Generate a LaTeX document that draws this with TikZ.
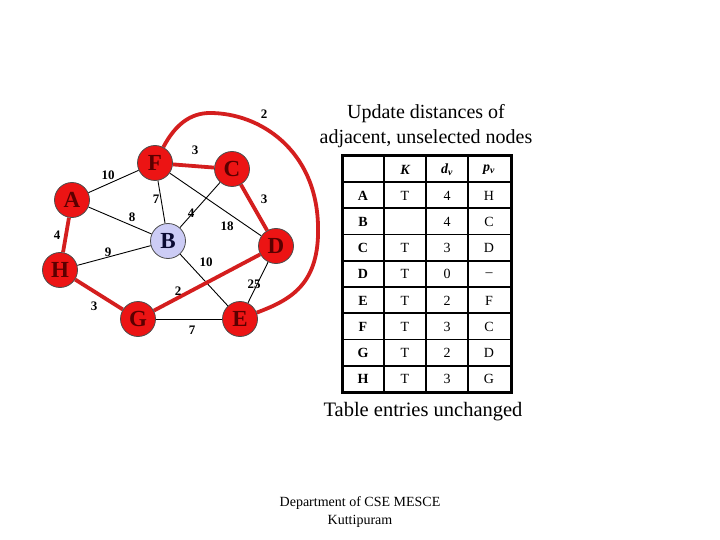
\documentclass[tikz,border=0pt]{standalone}
\usepackage{fontspec}
\setmainfont{Liberation Serif}
\usetikzlibrary{backgrounds}
\definecolor{nodered}{RGB}{236,20,20}
\definecolor{edgered}{RGB}{212,30,30}
\definecolor{letterred}{RGB}{90,0,0}
\definecolor{bblue}{RGB}{204,204,245}
\definecolor{bletter}{RGB}{10,10,50}
\tikzset{
  vert/.style={circle,draw=black!70,line width=0.8pt,fill=nodered,minimum size=35pt,inner sep=0pt,
    text=letterred,font=\fontsize{23}{23}\selectfont\bfseries},
  bvert/.style={vert,fill=bblue,text=bletter},
  thin edge/.style={draw=black,line width=0.9pt},
  red edge/.style={draw=edgered,line width=3.8pt},
  wlabel/.style={font=\fontsize{13}{13}\selectfont\bfseries,inner sep=0pt},
  cell/.style={font=\fontsize{14}{14}\selectfont,inner sep=0pt},
  hcell/.style={font=\fontsize{14}{14}\selectfont\bfseries\itshape,inner sep=0pt},
  rcell/.style={font=\fontsize{14}{14}\selectfont\bfseries,inner sep=0pt},
}
\begin{document}
\begin{tikzpicture}[x=1pt,y=-1pt]
\useasboundingbox (0,0) rectangle (720,540);
% vertices
\node[vert] (F) at (155,163) {F};
\node[vert] (C) at (232,169) {C};
\node[vert] (A) at (72,200) {A};
\node[bvert] (B) at (168,241) {B};
\node[vert] (D) at (276,246) {D};
\node[vert] (H) at (60,270) {H};
\node[vert] (G) at (138,319) {G};
\node[vert] (E) at (240,319) {E};
\coordinate (pk) at (210,113);
\coordinate (rt) at (318,225);
% edges (behind nodes)
\begin{scope}[on background layer]
\draw[thin edge] (A) -- (F);
\draw[thin edge] (A) -- (B);
\draw[thin edge] (F) -- (B);
\draw[thin edge] (C) -- (B);
\draw[thin edge] (F) -- (D);
\draw[thin edge] (H) -- (B);
\draw[thin edge] (B) -- (E);
\draw[thin edge] (D) -- (E);
\draw[thin edge] (G) -- (E);
\draw[red edge] (A) -- (H);
\draw[red edge] (H) -- (G);
\draw[red edge] (F) -- (C);
\draw[red edge] (C) -- (D);
\draw[red edge] (G) -- (D);
\draw[red edge] (F) .. controls (175,125) and (190,113) .. (pk)
  .. controls (260,113) and (316,150) .. (rt)
  .. controls (320,285) and (290,300) .. (E);
\end{scope}
% weights
\node[wlabel] (w1) at (264,114) {2};
\node[wlabel] (w2) at (195,150) {3};
\node[wlabel] (w3) at (108,175) {10};
\node[wlabel] (w4) at (156,199) {7};
\node[wlabel] (w5) at (132,217) {8};
\node[wlabel] (w6) at (191,213) {4};
\node[wlabel] (w7) at (227,226) {18};
\node[wlabel] (w8) at (264,199) {3};
\node[wlabel] (w9) at (57,235) {4};
\node[wlabel] (w10) at (108,252) {9};
\node[wlabel] (w11) at (206,262) {10};
\node[wlabel] (w12) at (178,291) {2};
\node[wlabel] (w13) at (254,284) {25};
\node[wlabel] (w14) at (94,306) {3};
\node[wlabel] (w15) at (192,330) {7};
% title
\node[font=\fontsize{20}{25}\selectfont,align=center] (title) at (426,126) {Update distances of\\adjacent, unselected nodes};
% table
\foreach \i in {0,...,7}
  \draw[line width=1.6pt] (342,{182+26.25*\i}) -- (511,{182+26.25*\i});
\foreach \x in {384,426,468}
  \draw[line width=1.6pt] (\x,156) -- (\x,392);
\draw[line width=3pt] (342,156) rectangle (511,392);
\node[hcell] (hK) at (405,170) {K};
\node[hcell] (hd) at (447,170) {d\textsubscript{v}};
\node[hcell] (hp) at (489,170) {p\textsubscript{v}};
\foreach \r/\k/\d/\p [count=\i from 0] in {A/T/4/H,B//4/C,C/T/3/D,D/T/0/--,E/T/2/F,F/T/3/C,G/T/2/D,H/T/3/G}{
  \node[rcell] (r\i) at (363,{195.6+26.25*\i}) {\r};
  \node[cell] (k\i) at (405,{195.6+26.25*\i}) {\k};
  \node[cell] (d\i) at (447,{195.6+26.25*\i}) {\d};
  \node[cell] (p\i) at (489,{195.6+26.25*\i}) {\p};
}
\node[font=\fontsize{20.5}{24}\selectfont] (note) at (423,412) {Table entries unchanged};
\node[font=\fontsize{14}{18}\selectfont,align=center] (dept) at (360,512) {Department of CSE MESCE\\Kuttipuram};
\end{tikzpicture}
\end{document}
